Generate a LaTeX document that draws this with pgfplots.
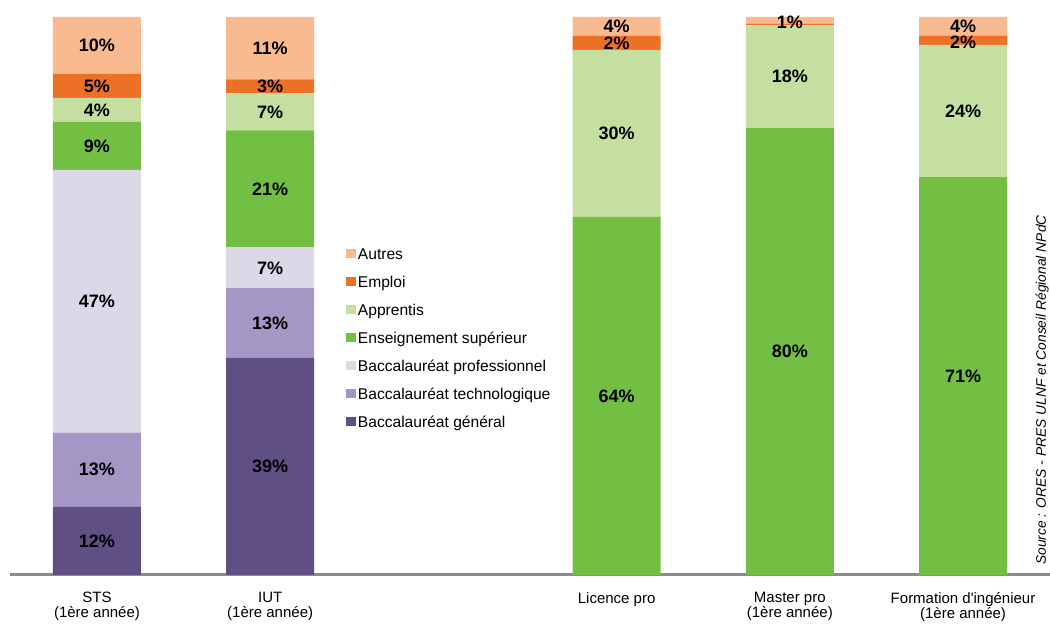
\documentclass[border=0pt]{standalone}
\usepackage{pgfplots}
\pgfplotsset{compat=1.18}
\usepackage{pgfplotstable}
\usepackage{fontspec}
\setmainfont{Liberation Sans}[Ligatures=TeXOff]
\definecolor{cAut}{HTML}{F8BA8E}
\definecolor{cEmp}{HTML}{EC7126}
\definecolor{cApp}{HTML}{C4DF9F}
\definecolor{cSup}{HTML}{72BF44}
\definecolor{cPro}{HTML}{DDD8E8}
\definecolor{cTec}{HTML}{A597C5}
\definecolor{cGen}{HTML}{5F4F83}
\definecolor{cAxis}{HTML}{8C8C8C}
\pgfplotstableread{
x gen tech pro sup appr emp aut
0 12.2 13.3 47.1 8.6 4.3 4.3 10.2
1 38.9 12.5 7.3 21.0 6.6 2.5 11.2
3 0 0 0 64.2 29.9 2.5 3.4
4 0 0 0 80.1 18.4 0.3 1.2
5 0 0 0 71.3 23.7 1.6 3.4
}\datatable
\pgfplotstableread{
x y lab
0 6.1 12
0 18.85 13
0 49.05 47
0 76.9 9
0 83.35 4
0 87.65 5
0 94.9 10
1 19.45 39
1 45.15 13
1 55.05 7
1 69.2 21
1 83.0 7
1 87.55 3
1 94.4 11
3 32.1 64
3 79.15 30
3 95.3 2
3 98.3 4
4 40.05 80
4 89.3 18
4 99.1 1
5 35.65 71
5 83.15 24
5 95.4 2
5 98.3 4
}\labeltable
\begin{document}
\begin{tikzpicture}
\useasboundingbox (0,0) rectangle (525pt,315pt);
\begin{axis}[
  at={(5pt,27.5pt)}, anchor=south west,
  scale only axis, width=520pt, height=279pt,
  xmin=-0.502, xmax=5.502, ymin=0, ymax=100,
  ybar stacked, bar width=44pt,
  axis x line=bottom, axis y line=none,
  x axis line style={-, draw=cAxis, line width=1.5pt},
  xtick={0,1,3,4,5},
  xticklabels={{STS\\(1ère année)},{IUT\\(1ère année)},{Licence pro},{Master pro\\(1ère année)},{Formation d'ingénieur\\(1ère année)}},
  xticklabel style={align=center, font=\fontsize{7.5}{7.5}\selectfont, yshift=-3pt},
  xtick style={draw=none},
  clip=false,
  reverse legend,
  legend style={draw=none, fill=none, at={(0.323,0.592)}, anchor=north west,
    inner sep=0pt, row sep=4.5pt,
    font=\fontsize{7.8}{9}\selectfont,
    nodes={text height=6pt, text depth=1.5pt, inner sep=1pt}},
  legend cell align=left,
  legend image code/.code={\fill[#1] (0pt,-1.8pt) rectangle (4.8pt,2.7pt);},
]
\addplot[fill=cGen, draw=none] table[x=x, y=gen] {\datatable};
\addplot[fill=cTec, draw=none] table[x=x, y=tech] {\datatable};
\addplot[fill=cPro, draw=none] table[x=x, y=pro] {\datatable};
\addplot[fill=cSup, draw=none] table[x=x, y=sup] {\datatable};
\addplot[fill=cApp, draw=none] table[x=x, y=appr] {\datatable};
\addplot[fill=cEmp, draw=none] table[x=x, y=emp] {\datatable};
\addplot[fill=cAut, draw=none] table[x=x, y=aut] {\datatable};
\legend{Baccalauréat général, Baccalauréat technologique, Baccalauréat professionnel, Enseignement supérieur, Apprentis, Emploi, Autres}
\node[rotate=90, font=\itshape\fontsize{6.9}{8}\selectfont] at (rel axis cs:0.9925,0.3315) {Source : ORES - PRES ULNF et Conseil Régional NPdC};
\end{axis}
\begin{axis}[
  at={(5pt,27.5pt)}, anchor=south west,
  scale only axis, width=520pt, height=279pt,
  xmin=-0.502, xmax=5.502, ymin=0, ymax=100,
  hide axis, clip=false,
]
\addplot[only marks, mark=*, mark size=0pt, mark options={draw=none, fill=none},
  point meta=explicit symbolic,
  nodes near coords={\pgfplotspointmeta\%},
  every node near coord/.append style={anchor=center, inner sep=0pt, font=\bfseries\fontsize{9}{10}\selectfont}]
  table[x=x, y=y, meta=lab] {\labeltable};
\end{axis}
\end{tikzpicture}
\end{document}
